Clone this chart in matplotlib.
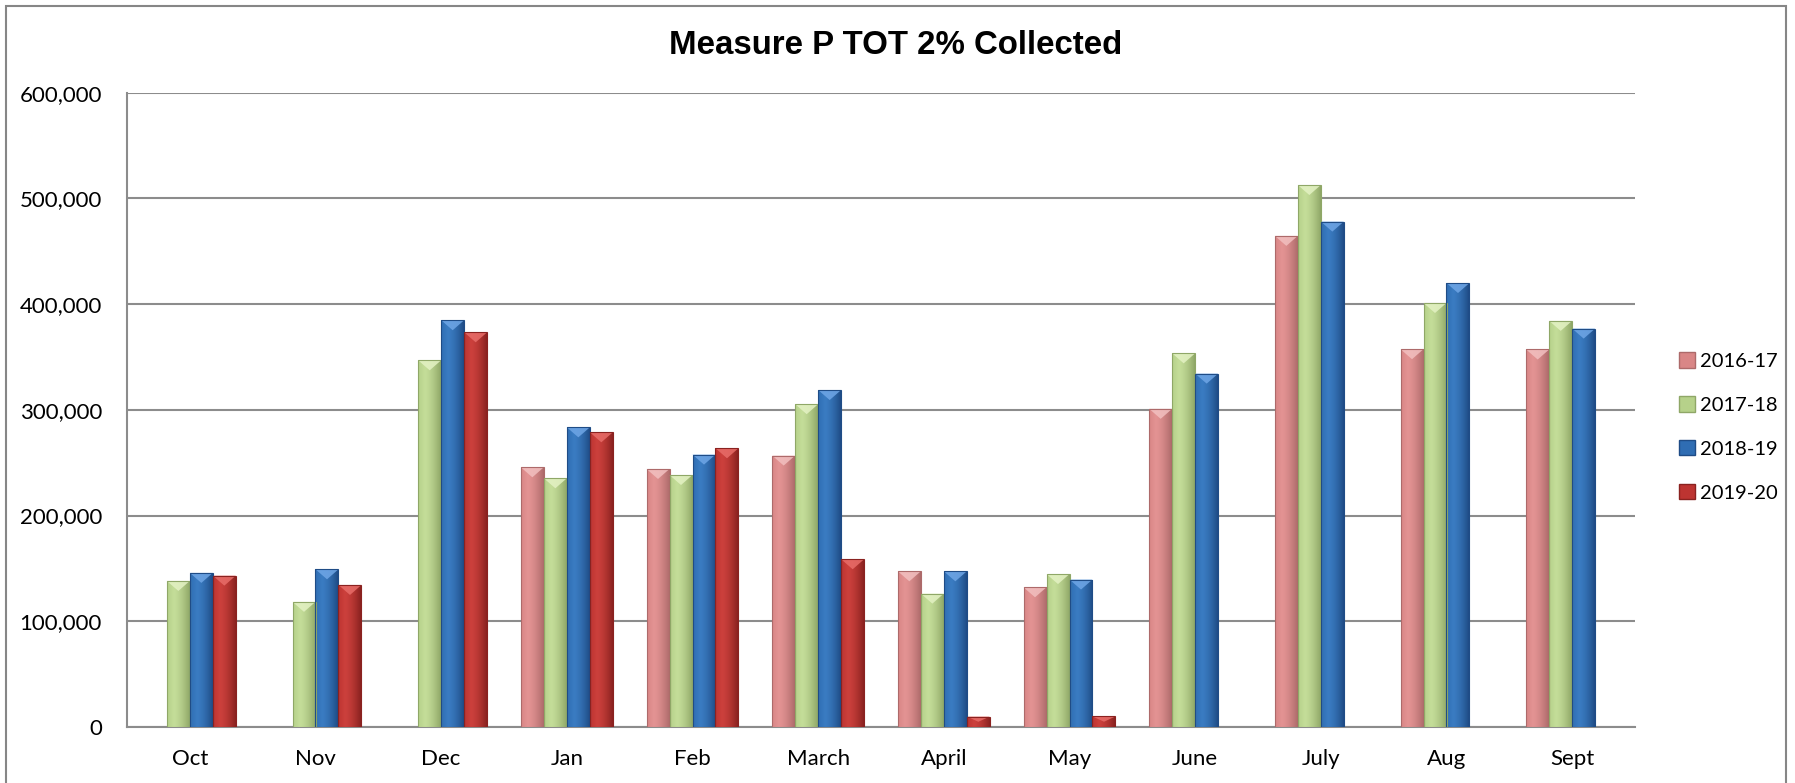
import numpy as np
import matplotlib
matplotlib.use("Agg")
import matplotlib.pyplot as plt
from matplotlib.patches import Patch, Polygon, Rectangle
from matplotlib.colors import to_rgb
from matplotlib.ticker import FuncFormatter

months = ["Oct", "Nov", "Dec", "Jan", "Feb", "March", "April", "May",
          "June", "July", "Aug", "Sept"]
years = ["2016-17", "2017-18", "2018-19", "2019-20"]

# nan = no bar for that month
fy1617 = [np.nan, np.nan, np.nan, 245700, 244100, 256800, 147300, 132200,
          301000, 464600, 357400, 357100]
fy1718 = [138200, 118400, 346900, 235300, 238400, 305400, 126200, 144700,
          353500, 512700, 401100, 384200]
fy1819 = [145800, 149200, 384800, 283500, 257700, 318800, 147300, 139500,
          334300, 478100, 420000, 376900]
fy1920 = [143200, 134400, 373400, 278800, 263700, 158700, 9900, 10000,
          np.nan, np.nan, np.nan, np.nan]
series = [fy1617, fy1718, fy1819, fy1920]

# light / mid / dark / highlight shades per series
shades = [
    ("#e39393", "#d98686", "#ad6a6a", "#f2c0c0"),
    ("#c4dd99", "#b6d18a", "#8fa767", "#e4f2c4"),
    ("#3a7cc2", "#2f6db3", "#1f4c86", "#6fa6e6"),
    ("#cc403c", "#bd3431", "#8a2220", "#e86d69"),
]

plt.rcParams["font.family"] = ["Lato", "DejaVu Sans"]

W, H = 1795, 783
fig = plt.figure(figsize=(W / 100, H / 100), dpi=100)
ax = fig.add_axes([127 / W, 56 / H, (1635 - 127) / W, (727 - 92.7) / H])

# outer chart frame
fig.patches.append(Rectangle((6 / W, -0.05), 1780 / W, 1.05 - 6 / H,
                             transform=fig.transFigure, fill=False,
                             edgecolor="#868686", linewidth=1.5))

x = np.arange(len(months))
bw = 0.183
offsets = (np.arange(4) - 1.5) * bw


def grad_img(light, mid, dark):
    c_l, c_m, c_d = (np.array(to_rgb(c)) for c in (light, mid, dark))
    img = np.zeros((1, 64, 3))
    for i, v in enumerate(np.linspace(0, 1, 64)):
        if v < 0.3:
            f = v / 0.3
            c = c_m * (1 - f) + c_l * f
        else:
            f = ((v - 0.3) / 0.7) ** 1.5
            c = c_l * (1 - f) + c_d * f
        img[0, i] = c
    return img


for s, vals in enumerate(series):
    light, mid, dark, hi = shades[s]
    img = grad_img(light, mid, dark)
    for i, v in enumerate(vals):
        if np.isnan(v):
            continue
        x0 = x[i] + offsets[s] - bw / 2
        x1 = x0 + bw
        rect = Rectangle((x0, 0), bw, v, facecolor=mid, edgecolor="none",
                         zorder=3)
        ax.add_patch(rect)
        im = ax.imshow(img, extent=(x0, x1, 0, v), aspect="auto",
                       interpolation="bilinear", zorder=3.1)
        im.set_clip_path(rect)
        ax.add_patch(Rectangle((x0, 0), bw, v, facecolor="none",
                               edgecolor=dark, linewidth=0.8, zorder=3.3))
        d = min(9500, 0.5 * v)
        ax.add_patch(Polygon([(x0, v), (x1, v), (x0 + bw / 2, v - d)],
                             closed=True, facecolor=hi, edgecolor="none",
                             alpha=0.85, zorder=3.2))

ax.set_xlim(-0.5, len(months) - 0.5)
ax.set_ylim(0, 600000)
ax.set_yticks(np.arange(0, 600001, 100000))
ax.yaxis.set_major_formatter(FuncFormatter(lambda v, p: f"{int(v):,}"))
ax.set_xticks(x)
ax.set_xticklabels(months)
ax.tick_params(axis="both", length=0, labelsize=16, colors="black")
ax.tick_params(axis="y", pad=18)
ax.tick_params(axis="x", pad=16)
ax.grid(axis="y", color="#8c8c8c", linewidth=1.5, zorder=0)
ax.set_axisbelow(True)
for side in ["top", "right"]:
    ax.spines[side].set_visible(False)
for side in ["left", "bottom"]:
    ax.spines[side].set_color("#8c8c8c")
    ax.spines[side].set_linewidth(1.5)

fig.text(0.4992, 1 - 46 / H, "Measure P TOT 2% Collected",
         family="Liberation Sans", fontweight="bold", fontsize=23.8,
         ha="center", va="center")

handles = [Patch(facecolor=shades[k][1], edgecolor=shades[k][2])
           for k in range(4)]
fig.legend(handles, years, loc="center left",
           bbox_to_anchor=(1671 / W, 1 - 427 / H), frameon=False,
           fontsize=14.5, handlelength=0.8, handleheight=0.8,
           handletextpad=0.25, labelspacing=1.3, borderaxespad=0)

fig.savefig("out.png", dpi=100)
